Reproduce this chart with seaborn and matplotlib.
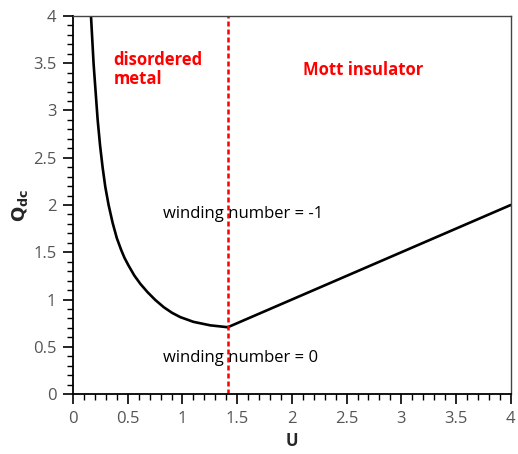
import matplotlib
matplotlib.use("Agg")
import matplotlib.pyplot as plt
import seaborn as sns
import pandas as pd
from matplotlib.ticker import MultipleLocator

# data
u_metal = [0.164, 0.188, 0.225, 0.247, 0.270, 0.295, 0.325, 0.362, 0.40, 0.44, 0.471, 0.508,
           0.56, 0.615, 0.68, 0.752, 0.83, 0.904, 0.98, 1.10, 1.254, 1.414]
q_metal = [4.00, 3.49, 2.90, 2.63, 2.40, 2.19, 2.00, 1.81, 1.65, 1.524, 1.439, 1.358,
           1.254, 1.166, 1.079, 0.995, 0.918, 0.86, 0.814, 0.764, 0.727, 0.707]
u_insul = [1.414, 4.0]
q_insul = [0.707, 2.0]
u_transition = 1.414

sns.set_theme(style="ticks")
plt.rcParams['font.family'] = ['Open Sans', 'DejaVu Sans']

fig = plt.figure(figsize=(5.18, 4.54), dpi=100)
ax = fig.add_axes([0.141, 0.132, 0.845, 0.833])

df_m = pd.DataFrame({"U": u_metal, "Q": q_metal})
df_i = pd.DataFrame({"U": u_insul, "Q": q_insul})
sns.lineplot(data=df_m, x="U", y="Q", ax=ax, color="black", lw=1.9, sort=False)
sns.lineplot(data=df_i, x="U", y="Q", ax=ax, color="black", lw=1.9, sort=False)
ax.axvline(u_transition, color="red", lw=1.8, ls=(0, (2, 1.2)))

ax.set_xlim(0, 4)
ax.set_ylim(0, 4)
ax.xaxis.set_minor_locator(MultipleLocator(0.1))
ax.yaxis.set_minor_locator(MultipleLocator(0.1))
ticks = [0, 0.5, 1, 1.5, 2, 2.5, 3, 3.5, 4]
labels = ["0", "0.5", "1", "1.5", "2", "2.5", "3", "3.5", "4"]
ax.set_xticks(ticks)
ax.set_xticklabels(labels)
ax.set_yticks(ticks)
ax.set_yticklabels(labels)
ax.tick_params(which="major", direction="out", length=7, width=1.2, color="black",
               labelsize=12, labelcolor="#555555", pad=5)
ax.tick_params(which="minor", direction="out", length=4, width=1, color="black")

for s in ["left", "bottom"]:
    ax.spines[s].set_color("black")
    ax.spines[s].set_linewidth(1.3)
for s in ["top", "right"]:
    ax.spines[s].set_color("#444444")
    ax.spines[s].set_linewidth(1.0)

ax.set_xlabel("U", fontsize=12, fontweight="bold", labelpad=4)
ax.set_ylabel(r"$\mathbf{Q_{dc}}$", fontsize=13, fontweight="bold", labelpad=2)

ax.text(0.37, 3.63, "disordered\nmetal", color="red", fontsize=12, fontweight="bold",
        ha="left", va="top", linespacing=1.05)
ax.text(2.65, 3.43, "Mott insulator", color="red", fontsize=12, fontweight="bold",
        ha="center", va="center")
ax.text(0.82, 1.90, "winding number = -1", color="black", fontsize=12, ha="left", va="center")
ax.text(0.82, 0.38, "winding number = 0", color="black", fontsize=12, ha="left", va="center")

fig.savefig("out.png", dpi=100)
